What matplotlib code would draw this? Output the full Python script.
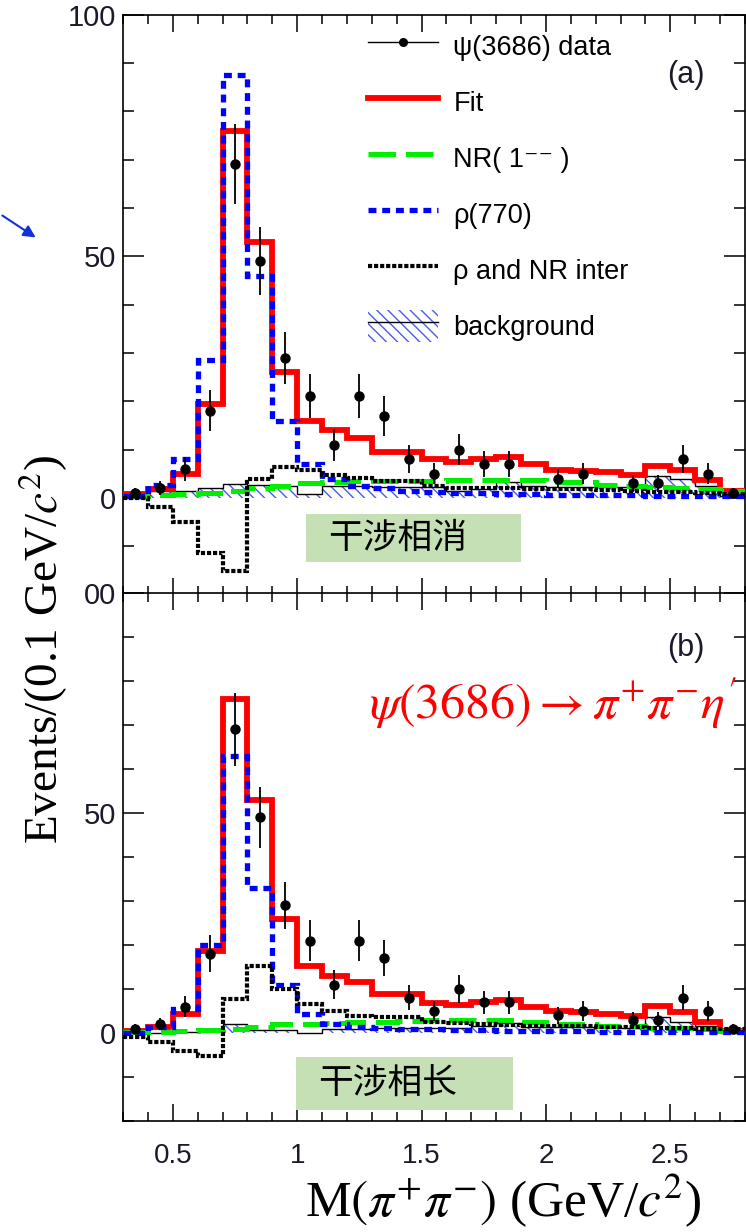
import numpy as np
import matplotlib.pyplot as plt
from matplotlib.lines import Line2D
from matplotlib.patches import Patch, Rectangle, FancyArrowPatch
from matplotlib.ticker import MultipleLocator

plt.rcParams['font.family'] = ['Liberation Sans', 'DejaVu Sans']
plt.rcParams['mathtext.fontset'] = 'stix'
plt.rcParams['hatch.linewidth'] = 1.0

# bin edges of the 0.1 GeV histograms, 0.3 .. 2.8
edges = np.round(np.arange(0.3, 2.85, 0.1), 2)
centers = edges[:-1] + 0.05

# psi(3686) data (same events in both panels)
data = np.array([1, 2, 6, 18, 69, 49, 29, 21, 11, 21, 17, 8, 5, 10, 7, 7,
                 0, 4, 5, 0, 3, 3, 8, 5, 1])

# panel (a): destructive interference solution
fit_a = [0.8, 1.9, 5, 19.5, 76, 53, 26, 16, 14, 12.4, 9.5, 9.5, 8, 7.5, 8,
         8.4, 7, 5.8, 5.6, 5.3, 4.8, 6.6, 5.7, 3.7, 1.5]
nr_a = [0.3, 0.6, 0.8, 1.0, 1.5, 2.0, 2.5, 3.0, 3.2, 3.4, 3.4, 3.5, 3.5, 3.6,
        3.7, 3.7, 3.6, 3.3, 3.2, 2.6, 2.4, 2.2, 2.0, 1.8, 1.5]
rho_a = [0.3, 2.7, 8, 28.5, 87.5, 46, 16, 7, 4, 2.5, 2, 1.5, 1.2, 1.0, 0.9,
         0.8, 0.7, 0.6, 0.6, 0.5, 0.5, 0.4, 0.4, 0.3, 0.3]
inter_a = [0, -1.8, -5.1, -11.4, -15.2, 3.9, 6.4, 5.8, 4.8, 4.2, 3.5, 3.5,
           2.5, 2.1, 2.0, 2.0, 1.8, 1.8, 1.8, 1.6, 1.5, 1.3, 1.2, 1.0, 0.8]
bkg_a = [0, 1.4, 1.4, 2.0, 2.9, 2.6, 2.4, 0.8, 2.5, 2.5, 2.2, 2.2, 2.2, 1.5,
         1.8, 3.3, 2.5, 2.3, 2.3, 2.3, 2.3, 4.5, 3.9, 2.5, 0.3]

# panel (b): constructive interference solution
fit_b = [0.5, 1.4, 4.3, 18.7, 76, 53, 26, 15.3, 13, 11.7, 8.9, 8.9, 6.8, 6.4,
         7, 7.5, 5.9, 5.1, 4.7, 4.3, 3.8, 6.1, 4.7, 2.6, 0.5]
nr_b = [0.2, 0.3, 0.4, 0.6, 0.8, 1.3, 2.0, 2.0, 2.3, 2.4, 2.6, 2.8, 3.0, 3.0,
        3.0, 3.0, 2.6, 2.0, 2.0, 1.7, 1.5, 1.1, 1.1, 1.0, 0.5]
rho_b = [0, 1.4, 5.5, 20, 63, 33, 11, 4.3, 2, 1.4, 1.2, 1.0, 0.8, 0.7, 0.6,
         0.5, 0.5, 0.4, 0.4, 0.3, 0.3, 0.3, 0.2, 0.2, 0.2]
inter_b = [-0.9, -2, -4, -5.2, 7.7, 15.3, 10, 6.6, 5, 3.9, 3.6, 3.6, 2.5, 2.2,
           2, 1.8, 1.7, 1.6, 1.5, 1.4, 1.3, 1.2, 1.1, 1.0, 0.8]
bkg_b = [0, 0, 0.3, 1, 2, 0.6, 0.6, 0, 1, 1, 1.2, 1.2, 1.2, 1.2, 1.5, 2.3,
         1.4, 1.4, 1.4, 1.5, 1.2, 3.6, 2.6, 1.5, 0]

x_ticks = [0.5, 1.0, 1.5, 2.0, 2.5]
x_ticklabels = ['0.5', '1', '1.5', '2', '2.5']
legend_labels = ['\u03c8(3686) data', 'Fit', 'NR( 1\u207b\u207b )', '\u03c1(770)',
                 '\u03c1 and NR inter', 'background']

W, H = 746, 1232
HATCH_BLUE = '#4a5cf0'
RED, GREEN, BLUE = '#ff0000', '#00ee00', '#0000ff'
LS_NR = (0, (5.5, 2.0))
LS_RHO = (0, (1.5, 1.1))
LS_INT = (0, (1.0, 0.45))


def fx(px):
    return px / W


def fy(py):
    return 1 - py / H


fig = plt.figure(figsize=(W / 100, H / 100), dpi=100)
ax_a = fig.add_axes([fx(123), fy(594.5), fx(745) - fx(123), (594.5 - 14.5) / H])
ax_b = fig.add_axes([fx(123), fy(1121), fx(745) - fx(123), (1121 - 593) / H])


def draw_panel(ax, fit, nr, rho, inter, bkg):
    ax.stairs(bkg, edges, baseline=0, fill=True, facecolor='none',
              edgecolor=HATCH_BLUE, hatch='\\\\\\', linewidth=0, zorder=1)
    ax.stairs(bkg, edges, baseline=None, color='k', lw=1.0, zorder=2)
    ax.stairs(fit, edges, baseline=None, color=RED, lw=4.2, zorder=3)
    ax.stairs(nr, edges, baseline=None, color=GREEN, lw=3.6,
              linestyle=LS_NR, zorder=4)
    ax.stairs(rho, edges, baseline=None, color=BLUE, lw=3.8,
              linestyle=LS_RHO, zorder=5)
    ax.stairs(inter, edges, baseline=None, color='k', lw=3.0,
              linestyle=LS_INT, zorder=6)
    m = data > 0
    ax.errorbar(centers[m], data[m], yerr=np.sqrt(data[m]), fmt='o', color='k',
                ms=6.5, elinewidth=1.3, capsize=0, zorder=7)

    ax.set_xlim(0.3, 2.8)
    ax.set_ylim(-20, 100)
    ax.set_xticks(x_ticks)
    ax.xaxis.set_minor_locator(MultipleLocator(0.1))
    ax.yaxis.set_minor_locator(MultipleLocator(10))
    ax.tick_params(which='both', direction='in', top=True, right=True,
                   width=1.1, colors='k', labelcolor='#1a1a2a')
    ax.tick_params(axis='x', which='major', length=12, pad=16, labelsize=20)
    ax.tick_params(axis='x', which='minor', length=6.5)
    ax.tick_params(axis='y', which='major', length=15, pad=5, labelsize=21)
    ax.tick_params(axis='y', which='minor', length=8)
    for s in ax.spines.values():
        s.set_linewidth(1.2)


draw_panel(ax_a, fit_a, nr_a, rho_a, inter_a, bkg_a)
draw_panel(ax_b, fit_b, nr_b, rho_b, inter_b, bkg_b)

ax_a.set_yticks([0, 50, 100])
ax_a.set_yticklabels(['0', '50', '100'])
ax_a.set_xticklabels([])
ax_b.set_yticks([0, 50, 100])
ax_b.set_yticklabels(['0', '50', '00'])
ax_b.set_xticklabels(x_ticklabels)

handles = [
    Line2D([], [], color='k', lw=1.0, marker='o', ms=5.5),
    Line2D([], [], color=RED, lw=4.2),
    Line2D([], [], color=GREEN, lw=3.6, linestyle=LS_NR),
    Line2D([], [], color=BLUE, lw=3.8, linestyle=LS_RHO),
    Line2D([], [], color='k', lw=3.0, linestyle=LS_INT),
    (Patch(facecolor='none', edgecolor=HATCH_BLUE, hatch='\\\\\\', lw=0),
     Line2D([], [], color='k', lw=1.0)),
]
ax_a.legend(handles, legend_labels, loc='upper left',
            bbox_to_anchor=(0.394, 0.974), frameon=False, fontsize=19.5,
            handlelength=2.6, handleheight=1.45, handletextpad=0.55,
            labelspacing=0.88, borderpad=0, borderaxespad=0, numpoints=1)

fig.text(fx(686), fy(75), '(a)', fontsize=22, ha='center', va='center',
         color='#1a1a2a')
fig.text(fx(686), fy(648), '(b)', fontsize=22, ha='center', va='center',
         color='#1a1a2a')

# green annotation boxes
for (x0, y0, x1, y1, txt) in [(306, 514, 521, 562, '\u5e72\u6d89\u76f8\u6d88'),
                              (296, 1057, 513, 1110, '\u5e72\u6d89\u76f8\u957f')]:
    fig.add_artist(Rectangle((fx(x0), fy(y1)), fx(x1) - fx(x0), (y1 - y0) / H,
                             transform=fig.transFigure, facecolor='#c5e0b4',
                             edgecolor='none', zorder=10))
    fig.text(fx(x0 + 22), fy((y0 + y1) / 2), txt, fontsize=25, ha='left',
             va='center', family=['Noto Sans CJK SC', 'DejaVu Sans'], zorder=11)

fig.text(fx(737), fy(703), r"$\psi(3686)\rightarrow\pi^{+}\pi^{-}\eta'$",
         color=RED, fontsize=36, ha='right', va='center')

fig.add_artist(FancyArrowPatch((fx(0), fy(214)), (fx(38), fy(239)),
                               transform=fig.transFigure, color='#1030e0',
                               arrowstyle='-|>', mutation_scale=18, lw=1.5))

fig.text(fx(43), fy(455), r'Events/(0.1 GeV/$c^{2}$)', rotation=90,
         ha='center', va='top', fontsize=34, family='Liberation Serif')
fig.text(fx(503), fy(1201), r'M$(\pi^{+}\pi^{-})$ (GeV/$c^{2}$)',
         ha='center', va='center', fontsize=37, family='Liberation Serif')

fig.savefig('out.png', dpi=100)
